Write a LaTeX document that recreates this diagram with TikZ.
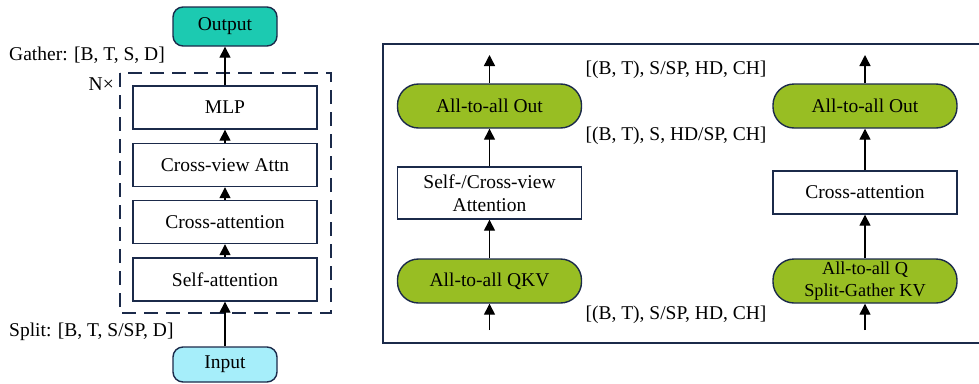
\documentclass[tikz,border=0pt]{standalone}
\usepackage{fontspec}
\setmainfont{Liberation Serif}
\usetikzlibrary{arrows.meta}
\definecolor{navy}{HTML}{1B2A4A}
\definecolor{tealfill}{HTML}{1CCAB1}
\definecolor{cyanfill}{HTML}{A6EEFA}
\definecolor{greenfill}{HTML}{98BE23}
\begin{document}
\begin{tikzpicture}[x=1pt,y=-1pt,
  every node/.style={font=\fontsize{19.5}{23}\selectfont, inner sep=0pt},
  blk/.style={draw=navy, line width=1.4pt, fill=white, minimum width=184pt, minimum height=43pt, align=center},
  endbox/.style={draw=navy, line width=1.4pt, rounded corners=10pt, minimum width=104pt, align=center},
  pill/.style={draw=navy, line width=1.4pt, fill=greenfill, rounded corners=21pt, minimum width=184pt, minimum height=44pt, align=center},
  arr/.style={-{Triangle[length=11pt,width=11pt]}, line width=1.4pt, black},
  lbl/.style={text=black}
]
\useasboundingbox (0,0) rectangle (979,383);
% ---- left panel ----
\draw[navy, line width=1.4pt, dash pattern=on 14pt off 8pt] (120,73) rectangle (331,313);
\node[endbox, fill=tealfill, minimum height=39pt] (out) at (225,26.5) {Output};
\node[blk] (mlp) at (225,107.5) {MLP};
\node[blk] (cva) at (225,165) {Cross-view Attn};
\node[blk] (ca) at (225,222) {Cross-attention};
\node[blk] (sa) at (225,279.5) {Self-attention};
\node[endbox, fill=cyanfill, minimum height=35pt] (in) at (225,364.5) {Input};
\node[lbl, anchor=west] (gather) at (9,55) {Gather: [B, T, S, D]};
\node[lbl, anchor=west] (split) at (9,332) {Split: [B, T, S/SP, D]};
\node[lbl, anchor=east] (nx) at (114,84) {N×};
\draw[arr] (in) -- (sa);
\draw[arr] (sa) -- (ca);
\draw[arr] (ca) -- (cva);
\draw[arr] (cva) -- (mlp);
\draw[arr] (mlp) -- (out);
% ---- right panel ----
\draw[navy, line width=1.4pt] (383,44) rectangle (984,343);
\node[pill] (lo) at (489.5,106) {All-to-all Out};
\node[blk, minimum height=52pt] (lsc) at (489.5,193) {Self-/Cross-view\\Attention};
\node[pill] (lq) at (489.5,281) {All-to-all QKV};
\node[pill] (ro) at (865,106) {All-to-all Out};
\node[blk] (rca) at (865,192.5) {Cross-attention};
\node[pill, font=\fontsize{18.3}{22}\selectfont] (rq) at (865,281) {All-to-all Q\\Split-Gather KV};
\coordinate (lotop) at (489.5,55);
\coordinate (lqbot) at (489.5,330);
\coordinate (rotop) at (865,55);
\coordinate (rqbot) at (865,330);
\draw[arr] (lqbot) -- (lq);
\draw[arr] (lq) -- (lsc);
\draw[arr] (lsc) -- (lo);
\draw[arr] (lo) -- (lotop);
\draw[arr] (rqbot) -- (rq);
\draw[arr] (rq) -- (rca);
\draw[arr] (rca) -- (ro);
\draw[arr] (ro) -- (rotop);
\node[lbl] (l1) at (676,70) {[(B, T), S/SP, HD, CH]};
\node[lbl] (l2) at (676,136) {[(B, T), S, HD/SP, CH]};
\node[lbl] (l3) at (676,315) {[(B, T), S/SP, HD, CH]};
\end{tikzpicture}
\end{document}
